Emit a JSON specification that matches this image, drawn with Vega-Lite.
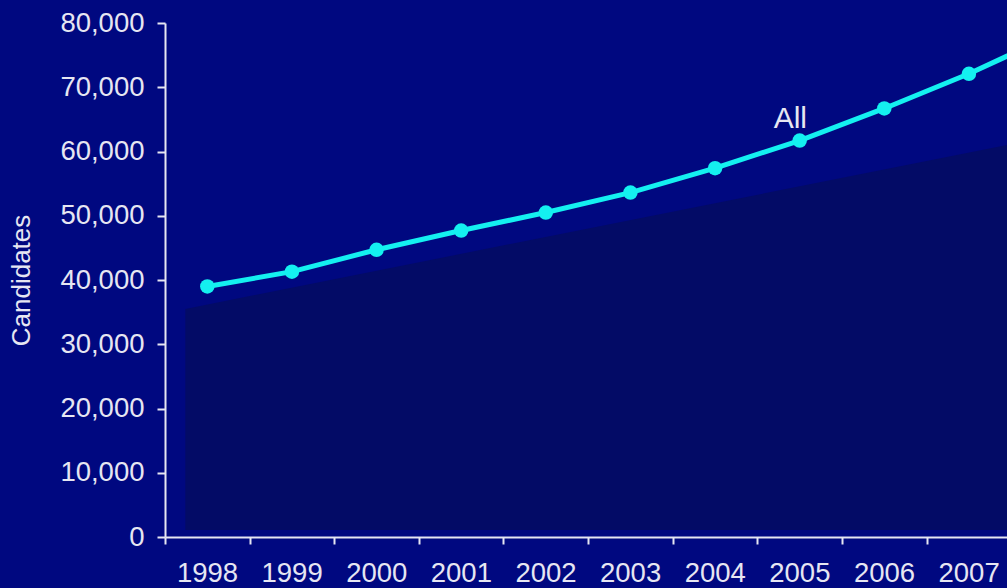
{
  "$schema": "https://vega.github.io/schema/vega-lite/v6.json",
  "width": 842,
  "height": 514,
  "autosize": {"type": "none"},
  "padding": {"left": 165, "top": 23, "right": 0, "bottom": 51},
  "background": "#000880",
  "config": {
    "view": {"stroke": null},
    "font": "Liberation Sans",
    "axis": {
      "labelFont": "Liberation Sans",
      "labelFontSize": 27.5,
      "labelColor": "#E6E6F2",
      "domainColor": "#E6E6F2",
      "domainWidth": 2,
      "tickColor": "#E6E6F2",
      "tickWidth": 2,
      "grid": false,
      "titleFont": "Liberation Sans",
      "titleFontSize": 26,
      "titleFontWeight": "normal",
      "titleColor": "#E6E6F2"
    }
  },
  "datasets": {
    "series": [
      {"year": 1998, "value": 39000},
      {"year": 1999, "value": 41300},
      {"year": 2000, "value": 44700},
      {"year": 2001, "value": 47700},
      {"year": 2002, "value": 50500},
      {"year": 2003, "value": 53600},
      {"year": 2004, "value": 57400},
      {"year": 2005, "value": 61700},
      {"year": 2006, "value": 66700},
      {"year": 2007, "value": 72100},
      {"year": 2008, "value": 78200}
    ],
    "shade": [
      {"year": 1997.74, "value": 35500, "value2": 1100},
      {"year": 2008.2, "value": 63000, "value2": 1100}
    ],
    "label": [
      {"year": 2004.89, "value": 63700, "text": "All"}
    ]
  },
  "layer": [
    {
      "data": {"name": "shade"},
      "mark": {"type": "area", "color": "#030B66", "clip": true},
      "encoding": {
        "x": {"field": "year", "type": "quantitative", "title": null,
          "scale": {"domain": [1997.5, 2007.45], "nice": false, "zero": false},
          "axis": {
            "values": [1997.5, 1998.5, 1999.5, 2000.5, 2001.5, 2002.5, 2003.5, 2004.5, 2005.5, 2006.5],
            "labelExpr": "format(datum.value + 0.5, 'd')",
            "labelOffset": 42,
            "labelFlush": false,
            "labelOverlap": false,
            "tickSize": 7,
            "labelPadding": 15
          }
        },
        "y": {"field": "value", "type": "quantitative", "title": "Candidates",
          "scale": {"domain": [0, 80000], "nice": false},
          "axis": {
            "values": [0, 10000, 20000, 30000, 40000, 50000, 60000, 70000, 80000],
            "format": ",d",
            "tickSize": 8,
            "labelPadding": 13,
            "titlePadding": 25
          }
        },
        "y2": {"field": "value2"}
      }
    },
    {
      "data": {"name": "series"},
      "mark": {"type": "line", "color": "#14F0F0", "strokeWidth": 5, "clip": true},
      "encoding": {
        "x": {"field": "year", "type": "quantitative", "title": null},
        "y": {"field": "value", "type": "quantitative", "title": "Candidates"}
      }
    },
    {
      "data": {"name": "series"},
      "mark": {"type": "point", "filled": true, "color": "#14F0F0", "opacity": 1, "size": 210, "clip": true},
      "encoding": {
        "x": {"field": "year", "type": "quantitative", "title": null},
        "y": {"field": "value", "type": "quantitative", "title": "Candidates"}
      }
    },
    {
      "data": {"name": "label"},
      "mark": {"type": "text", "color": "#E6E6F2", "fontSize": 30, "align": "center", "baseline": "alphabetic", "font": "Liberation Sans"},
      "encoding": {
        "x": {"field": "year", "type": "quantitative", "title": null},
        "y": {"field": "value", "type": "quantitative", "title": "Candidates"},
        "text": {"field": "text"}
      }
    }
  ]
}
